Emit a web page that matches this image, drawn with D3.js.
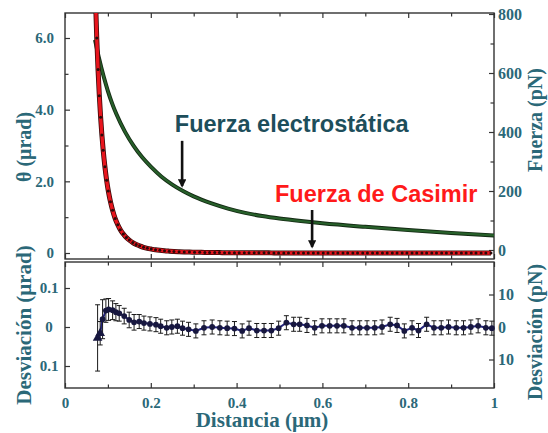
<!DOCTYPE html>
<html><head><meta charset="utf-8">
<script src="https://cdn.jsdelivr.net/npm/d3@7"></script>
<style>
html,body{margin:0;padding:0;background:#fff;}
svg{display:block;}
</style></head><body>
<svg id="chart" width="548" height="433"></svg>
<script>
// ---------- data ----------
// Electrostatic force curve (green), distance in µm, value in µrad
const elecD = [0.070, 0.080, 0.090, 0.100, 0.110, 0.120, 0.140, 0.160, 0.180, 0.200, 0.225, 0.250, 0.275, 0.300, 0.340, 0.380, 0.420, 0.460, 0.500, 0.550, 0.600, 0.700, 0.800, 0.900, 1.000];
const elecV = [5.95, 5.40, 4.93, 4.52, 4.17, 3.87, 3.38, 2.99, 2.67, 2.41, 2.13, 1.91, 1.73, 1.58, 1.39, 1.24, 1.12, 1.03, 0.96, 0.89, 0.83, 0.73, 0.64, 0.56, 0.49];

// Casimir force data points (black dots on red curve)
const dotD = [0.070,0.074,0.077,0.080,0.083,0.086,0.089,0.093,0.097,0.101,0.106,0.111,0.117,0.123,0.129,0.136,0.143,0.150,0.158,0.166,0.174,0.183,0.192,0.201,0.211,0.221,0.232,0.243,0.254,0.266,0.278,0.290,0.302,0.314,0.326,0.337,0.349,0.360,0.372,0.383,0.395,0.406,0.418,0.429,0.441,0.452,0.464,0.475,0.487,0.498,0.510,0.521,0.533,0.544,0.556,0.567,0.579,0.590,0.602,0.613,0.625,0.636,0.648,0.659,0.671,0.682,0.694,0.705,0.717,0.728,0.740,0.751,0.763,0.774,0.786,0.797,0.809,0.820,0.832,0.843,0.855,0.866,0.878,0.889,0.901,0.912,0.924,0.935,0.947,0.958,0.970,0.981,0.993];
const dotV = [7.5,6.0,5.12,4.39,3.79,3.29,2.87,2.41,2.03,1.73,1.43,1.19,0.96,0.79,0.65,0.53,0.43,0.36,0.29,0.24,0.20,0.16,0.13,0.11,0.09,0.075,0.062,0.052,0.043,0.036,0.030,0.025,0.022,0.019,0.016,0.014,0.012,0.011,0.009,0.008,0.007,0.007,0.006,0.005,0.005,0.004,0.004,0.004,0.003,0.003,0.003,0.002,0.002,0.002,0.002,0.002,0.001,0.001,0.001,0.001,0.001,0,0,0,0,0,0,0,0,0,0,0,0,0,0,0,0,0,0,0,0,0,0,0,0,0,0,0,0,0,0,0,0];

// Deviation (lower panel), µrad, with error
const devD = [0.076,0.082,0.0876,0.0953,0.1016,0.111,0.1186,0.1264,0.138,0.1496,0.161,0.173,0.184,0.198,0.212,0.223,0.237,0.249,0.262,0.274,0.288,0.305,0.324,0.343,0.361,0.378,0.395,0.413,0.429,0.447,0.464,0.481,0.498,0.516,0.533,0.547,0.564,0.582,0.599,0.617,0.634,0.650,0.669,0.687,0.704,0.722,0.739,0.758,0.774,0.791,0.809,0.824,0.843,0.860,0.877,0.894,0.912,0.929,0.946,0.963,0.981,0.995];
const devV = [-0.028,-0.016,0.020,0.042,0.045,0.043,0.038,0.035,0.028,0.018,0.012,0.014,0.010,0.008,0.006,0.002,-0.002,0.000,0.002,-0.003,-0.006,-0.010,-0.002,0.000,-0.002,-0.003,-0.004,-0.010,-0.003,-0.009,-0.009,-0.009,-0.003,0.011,0.007,0.007,0.004,-0.002,0.003,0.003,0.003,0.003,-0.002,-0.002,-0.002,-0.002,0.000,0.007,0.004,-0.010,-0.002,-0.009,0.007,-0.002,-0.002,0.000,-0.002,-0.002,0.000,0.003,-0.002,-0.003];
const devE = [0.085,0.030,0.050,0.030,0.028,0.024,0.022,0.020,0.020,0.020,0.020,0.018,0.018,0.018,0.018,0.018,0.018,0.018,0.018,0.018,0.018,0.018,0.018,0.018,0.018,0.018,0.018,0.018,0.018,0.018,0.018,0.018,0.018,0.018,0.018,0.018,0.018,0.018,0.018,0.018,0.018,0.018,0.018,0.018,0.018,0.018,0.018,0.018,0.018,0.018,0.018,0.018,0.018,0.018,0.018,0.018,0.018,0.018,0.018,0.018,0.018,0.018];
const devSymbol = ["triangle","triangle"]; // first points drawn as triangles, rest circles

// ticks
const xTicks = [0, 0.2, 0.4, 0.6, 0.8, 1];
const xTickLabels = ["0", "0.2", "0.4", "0.6", "0.8", "1"];
const xMinorTicks = [0.1, 0.3, 0.5, 0.7, 0.9];
const thetaTicks = [0, 2, 4, 6];
const thetaLabels = ["0", "2.0", "4.0", "6.0"];
const thetaMinor = [1, 3, 5];
const forceTicks = [0, 200, 400, 600, 800];
const forceLabels = ["0", "200", "400", "600", "800"];
const forceMinor = [100, 300, 500, 700];
const devTicks = [-0.1, 0, 0.1];
const devLabels = ["0.1", "0", "0.1"];
const devFTicks = [-10, 0, 10];
const devFLabels = ["10", "0", "10"];

// annotations (data coordinates)
const annoText = ["Fuerza electrostática", "Fuerza de Casimir"];
const annoTextD = [0.256, 0.4895];
const annoTextV = [3.38, 1.42];
const arrowD = [0.273, 0.576];
const arrowFrom = [3.13, 1.20];
const arrowTo = [1.87, 0.17];

// ---------- drawing ----------
const svg = d3.select("#chart");
const teal = "#2b6878";
const serif = "'Liberation Serif','Times New Roman',serif";
const sans = "'Liberation Sans',Arial,sans-serif";
const frameCol = "#333";

const L = 65, R = 494, upTop = 13, upBot = 259, loTop = 262, loBot = 388;
const x = d3.scaleLinear().domain([0, 1]).range([L, R]);
const yL = d3.scaleLinear().domain([0, 6]).range([253, 38]);
const yR = d3.scaleLinear().domain([0, 800]).range([250, 14]);
const yDL = d3.scaleLinear().domain([-0.1, 0.1]).range([366, 288]);
const yDR = d3.scaleLinear().domain([-10, 10]).range([359.5, 294.5]);

svg.append("rect").attr("width", 548).attr("height", 433).attr("fill", "#fff");

function styleAxis(g, size) {
  g.select(".domain").remove();
  g.attr("font-family", serif).attr("font-size", size || 15).attr("font-weight", "bold");
  g.selectAll("line").attr("stroke", frameCol).attr("stroke-width", 1.2);
  g.selectAll("text").attr("fill", teal);
  return g;
}
function addAxis(gen, tx, ty, size) {
  return styleAxis(svg.append("g").attr("transform", `translate(${tx},${ty})`).call(gen), size);
}

// --- upper panel axes ---
addAxis(d3.axisLeft(yL).tickValues(thetaTicks).tickFormat((d, i) => thetaLabels[i]).tickSizeInner(-5).tickSizeOuter(0).tickPadding(11), L, 0);
addAxis(d3.axisLeft(yL).tickValues(thetaMinor).tickFormat("").tickSizeInner(-3.5).tickSizeOuter(0), L, 0);
addAxis(d3.axisRight(yR).tickValues(forceTicks).tickFormat((d, i) => forceLabels[i]).tickSizeInner(-5).tickSizeOuter(0).tickPadding(4), R, 0, 16);
addAxis(d3.axisRight(yR).tickValues(forceMinor).tickFormat("").tickSizeInner(-3.5).tickSizeOuter(0), R, 0);
addAxis(d3.axisTop(x).tickValues(xTicks).tickFormat("").tickSizeInner(-5).tickSizeOuter(0), 0, upTop);
addAxis(d3.axisTop(x).tickValues(xMinorTicks).tickFormat("").tickSizeInner(-3.5).tickSizeOuter(0), 0, upTop);
addAxis(d3.axisBottom(x).tickValues(xTicks).tickFormat("").tickSizeInner(-5).tickSizeOuter(0), 0, upBot);
addAxis(d3.axisBottom(x).tickValues(xMinorTicks).tickFormat("").tickSizeInner(-3.5).tickSizeOuter(0), 0, upBot);

// --- lower panel axes ---
const dl = addAxis(d3.axisLeft(yDL).tickValues(devTicks).tickFormat((d, i) => devLabels[i]).tickSizeInner(-5).tickSizeOuter(0).tickPadding(6), L, 0);
dl.selectAll("text").attr("text-anchor", "middle").attr("x", -16);
addAxis(d3.axisRight(yDR).tickValues(devFTicks).tickFormat((d, i) => devFLabels[i]).tickSizeInner(-5).tickSizeOuter(0).tickPadding(4), R, 0, 16);
addAxis(d3.axisBottom(x).tickValues(xTicks).tickFormat("").tickSizeInner(5).tickSizeOuter(0), 0, loTop);
addAxis(d3.axisBottom(x).tickValues(xMinorTicks).tickFormat("").tickSizeInner(3.5).tickSizeOuter(0), 0, loTop);
addAxis(d3.axisBottom(x).tickValues(xTicks).tickFormat((d, i) => xTickLabels[i]).tickSizeInner(-5).tickSizeOuter(0).tickPadding(9), 0, loBot);
addAxis(d3.axisBottom(x).tickValues(xMinorTicks).tickFormat("").tickSizeInner(-3.5).tickSizeOuter(0), 0, loBot);

// frames
svg.append("rect").attr("x", L).attr("y", upTop).attr("width", R - L).attr("height", upBot - upTop)
  .attr("fill", "none").attr("stroke", frameCol).attr("stroke-width", 1.4);
svg.append("rect").attr("x", L).attr("y", loTop).attr("width", R - L).attr("height", loBot - loTop)
  .attr("fill", "none").attr("stroke", frameCol).attr("stroke-width", 1.4);

// clip
const defs = svg.append("defs");
defs.append("clipPath").attr("id", "clipUp").append("rect")
  .attr("x", L).attr("y", upTop).attr("width", R - L).attr("height", upBot - upTop);
defs.append("marker").attr("id", "arrowHead").attr("viewBox", "0 0 10 10").attr("refX", 8).attr("refY", 5)
  .attr("markerWidth", 3.2).attr("markerHeight", 3.2).attr("orient", "auto")
  .append("path").attr("d", "M0,0 L10,5 L0,10 z").attr("fill", "#111");

// upper curves
const up = svg.append("g").attr("clip-path", "url(#clipUp)");
const elecPts = elecD.map((d, i) => [d, elecV[i]]);
const dotPts = dotD.map((d, i) => [d, dotV[i]]);
const lineL = d3.line().x(p => x(p[0])).y(p => yL(p[1])).curve(d3.curveMonotoneX);

up.append("path").attr("d", lineL(elecPts)).attr("fill", "none").attr("stroke", "#142a14").attr("stroke-width", 4);
up.append("path").attr("d", lineL(elecPts)).attr("fill", "none").attr("stroke", "#27602a").attr("stroke-width", 2.2);
up.append("path").attr("d", lineL(dotPts)).attr("fill", "none").attr("stroke", "#3a0808").attr("stroke-width", 5);
up.append("path").attr("d", lineL(dotPts)).attr("fill", "none").attr("stroke", "#e8151d").attr("stroke-width", 3.4);
up.selectAll("circle.dot").data(dotPts).join("circle").attr("class", "dot")
  .attr("cx", p => x(p[0])).attr("cy", p => yL(p[1])).attr("r", 1.5).attr("fill", "#2a0a0a");

// annotations
annoText.forEach((t, i) => {
  svg.append("text").attr("x", x(annoTextD[i])).attr("y", yL(annoTextV[i]))
    .attr("font-family", sans).attr("font-weight", "bold").attr("font-size", 23.5)
    .attr("fill", i === 0 ? "#1d4e5b" : "#ff1a1a").text(t);
});
arrowD.forEach((d, i) => {
  svg.append("line").attr("x1", x(d)).attr("x2", x(d)).attr("y1", yL(arrowFrom[i])).attr("y2", yL(arrowTo[i]))
    .attr("stroke", "#111").attr("stroke-width", 2.6).attr("marker-end", "url(#arrowHead)");
});

// lower panel data
const devPts = devD.map((d, i) => ({d, v: devV[i], e: devE[i], s: devSymbol[i] || "circle"}));
const lineD = d3.line().x(p => x(p.d)).y(p => yDL(p.v));
svg.append("path").attr("d", lineD(devPts)).attr("fill", "none").attr("stroke", "#24247e").attr("stroke-width", 2);
const eb = svg.append("g").attr("stroke", "#1a1a1a").attr("stroke-width", 1);
devPts.forEach(p => {
  const cx = x(p.d), y1 = yDL(p.v + p.e), y2 = yDL(p.v - p.e);
  eb.append("line").attr("x1", cx).attr("x2", cx).attr("y1", y1).attr("y2", y2);
  eb.append("line").attr("x1", cx - 2.5).attr("x2", cx + 2.5).attr("y1", y1).attr("y2", y1);
  eb.append("line").attr("x1", cx - 2.5).attr("x2", cx + 2.5).attr("y1", y2).attr("y2", y2);
});
svg.selectAll("path.mk").data(devPts).join("path").attr("class", "mk")
  .attr("transform", p => `translate(${x(p.d)},${yDL(p.v)})`)
  .attr("d", p => d3.symbol().type(p.s === "triangle" ? d3.symbolTriangle : d3.symbolCircle).size(p.s === "triangle" ? 40 : 26)())
  .attr("fill", "#17173f");

// axis titles
function title(txt, tx, ty, rot, size) {
  svg.append("text").attr("transform", `translate(${tx},${ty}) rotate(${rot})`)
    .attr("text-anchor", "middle").attr("font-family", serif).attr("font-weight", "bold")
    .attr("font-size", size).attr("fill", teal).text(txt);
}
title("θ (μrad)", 31, 147, -90, 20);
title("Fuerza (pN)", 542, 120, -90, 20);
title("Desviación (μrad)", 31, 325, -90, 21);
title("Desviación (pN)", 542, 332, -90, 20);
title("Distancia (μm)", 262, 427, 0, 21);
</script>
</body></html>
